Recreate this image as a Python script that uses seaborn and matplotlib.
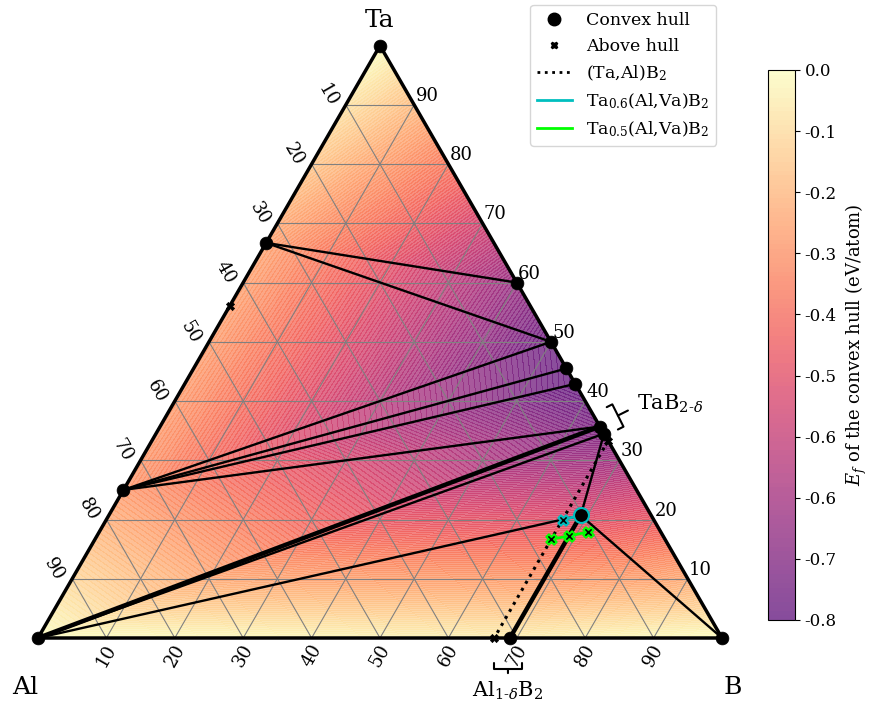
import numpy as np
import pandas as pd
import seaborn as sns
import matplotlib.pyplot as plt
import matplotlib.tri as mtri
from matplotlib.colors import ListedColormap
from matplotlib.lines import Line2D
from matplotlib.transforms import offset_copy

# convex hull phases: Ta fraction, B fraction, formation energy (eV/atom)
hull_names = ['Al', 'B', 'Ta', 'TaAl3', 'Ta2Al', 'Ta3B2', 'TaB', 'Ta5B6', 'Ta3B4',
              'TaB1.8', 'TaB1.9', 'Ta0.6Al0.3B2', 'Al0.9B2']
hull_ta = [0.0, 0.0, 1.0, 0.25, 0.667, 0.60, 0.50, 0.455, 0.429, 0.357, 0.345, 0.207, 0.0]
hull_b = [0.0, 1.0, 0.0, 0.0, 0.0, 0.40, 0.50, 0.545, 0.571, 0.643, 0.655, 0.690, 0.690]
hull_ef = [0.0, 0.0, 0.0, -0.26, -0.23, -0.68, -0.80, -0.815, -0.825, -0.76, -0.74, -0.48, -0.04]

# hull facets (triangles between hull phases)
facets = [('Ta', 'Ta2Al', 'Ta3B2'), ('Ta2Al', 'Ta3B2', 'TaB'), ('Ta2Al', 'TaB', 'TaAl3'),
          ('TaAl3', 'TaB', 'Ta5B6'), ('TaAl3', 'Ta5B6', 'Ta3B4'), ('TaAl3', 'Ta3B4', 'TaB1.8'),
          ('TaAl3', 'TaB1.8', 'Al'), ('Al', 'TaB1.8', 'TaB1.9'), ('Al', 'TaB1.9', 'Ta0.6Al0.3B2'),
          ('Al', 'Ta0.6Al0.3B2', 'Al0.9B2'), ('Ta0.6Al0.3B2', 'Al0.9B2', 'B'),
          ('TaB1.9', 'Ta0.6Al0.3B2', 'B')]

# tie lines drawn on the diagram
tie_lines = [('Ta2Al', 'Ta3B2'), ('Ta2Al', 'TaB'), ('TaAl3', 'TaB'), ('TaAl3', 'Ta5B6'),
             ('TaAl3', 'Ta3B4'), ('TaAl3', 'TaB1.8'), ('Al', 'TaB1.8'), ('Al', 'TaB1.9'),
             ('Al', 'Ta0.6Al0.3B2'), ('TaB1.9', 'Ta0.6Al0.3B2'), ('Ta0.6Al0.3B2', 'B')]
double_lines = [('Ta0.6Al0.3B2', 'Al0.9B2'), ('Al', 'TaB1.8')]

# phases above the hull
above_ta = [0.56, 0.0, 0.333]
above_b = [0.0, 0.667, 0.667]

# (Ta,Al)B2 solid solution line
ss_ta = [0.333, 0.0]
ss_b = [0.667, 0.667]
# Ta0.6(Al,Va)B2
ta06_ta = [0.200, 0.207]
ta06_b = [0.667, 0.690]
# Ta0.5(Al,Va)B2
ta05_ta = [0.167, 0.172, 0.179]
ta05_b = [0.667, 0.690, 0.714]

s3 = np.sqrt(3) / 2


def to_xy(ta, b):
    ta = np.asarray(ta, dtype=float)
    b = np.asarray(b, dtype=float)
    return b + ta / 2, ta * s3


plt.rcParams['font.family'] = 'DejaVu Serif'
plt.rcParams['mathtext.fontset'] = 'dejavuserif'

fig = plt.figure(figsize=(8.69, 7.04), dpi=100)
ax = fig.add_axes([0, 0, 740 / 869, 1])
ax.set_xlim(-38 / 684, 702 / 684)
ax.set_ylim(-66 / 684, 638 / 684)
ax.axis('off')

hull = pd.DataFrame({'name': hull_names, 'ta': hull_ta, 'b': hull_b, 'ef': hull_ef})
hull['x'], hull['y'] = to_xy(hull['ta'], hull['b'])
idx = {n: i for i, n in enumerate(hull_names)}

vmin = min(hull_ef)
cmap = ListedColormap(plt.cm.magma(np.linspace(0.3, 1.0, 256)))
tri = mtri.Triangulation(hull['x'], hull['y'], triangles=[[idx[a], idx[b], idx[c]] for a, b, c in facets])
cs = ax.tricontourf(tri, hull['ef'], levels=np.linspace(vmin, 0, 121), cmap=cmap, alpha=0.78, zorder=0)

# ternary grid
for t in np.arange(0.1, 1.0, 0.1):
    for (ta0, b0), (ta1, b1) in [((t, 0), (t, 1 - t)), ((0, t), (1 - t, t)), ((0, 1 - t), (1 - t, 0))]:
        gx, gy = to_xy([ta0, ta1], [b0, b1])
        ax.plot(gx, gy, color='grey', lw=0.8, zorder=1)

for a, b in tie_lines:
    ax.plot(hull.loc[[idx[a], idx[b]], 'x'], hull.loc[[idx[a], idx[b]], 'y'], color='k', lw=1.7, zorder=3)
for a, b in double_lines:
    ax.plot(hull.loc[[idx[a], idx[b]], 'x'], hull.loc[[idx[a], idx[b]], 'y'], color='k', lw=3.2, zorder=3)

ex, ey = to_xy([0, 0, 1, 0], [0, 1, 0, 0])
ax.plot(ex, ey, color='k', lw=2.5, zorder=4)

sx, sy = to_xy(ss_ta, ss_b)
sns.lineplot(x=sx, y=sy, sort=False, estimator=None, color='k', lw=2.2, linestyle=':', ax=ax, zorder=4)

ax6x, ax6y = to_xy(ta06_ta, ta06_b)
sns.lineplot(x=ax6x, y=ax6y, sort=False, estimator=None, color='c', lw=2, ax=ax, zorder=5)
ax5x, ax5y = to_xy(ta05_ta, ta05_b)
sns.lineplot(x=ax5x, y=ax5y, sort=False, estimator=None, color='lime', lw=2, ax=ax, zorder=5)

sns.scatterplot(data=hull, x='x', y='y', color='k', s=85, edgecolor='k', linewidth=0.5,
                ax=ax, zorder=6, legend=False)
tx = hull.loc[idx['Ta0.6Al0.3B2']]
ax.scatter([tx['x']], [tx['y']], s=115, color='k', edgecolor='c', linewidth=1.5, zorder=7)

bx, by = to_xy(above_ta, above_b)
sns.scatterplot(x=bx, y=by, color='k', marker='X', s=35, edgecolor='k', ax=ax, zorder=5, legend=False)
ax.scatter(ax6x[:1], ax6y[:1], marker='X', s=55, color='k', edgecolor='c', linewidth=1.5, zorder=7)
ax.scatter(ax5x, ax5y, marker='X', s=55, color='k', edgecolor='lime', linewidth=1.5, zorder=7)

# tick labels
for i in range(1, 10):
    t = i / 10
    lab = str(i * 10)
    rx, ry = to_xy(t, 1 - t)
    ax.annotate(lab, (rx, ry), xytext=(1, 0), textcoords='offset points', ha='left', va='bottom', fontsize=13)
    lx, ly = to_xy(1 - t, 0)
    ax.annotate(lab, (lx, ly), xytext=(-13, 7), textcoords='offset points', ha='center', va='center',
                rotation=-60, fontsize=13)
    bx_, by_ = to_xy(0, t)
    ax.annotate(lab, (bx_, by_), xytext=(0, -12.5), textcoords='offset points', ha='center', va='center',
                rotation=60, fontsize=13)

ax.annotate('Ta', to_xy(1, 0), xytext=(0, 18), textcoords='offset points', ha='center', va='center', fontsize=18)
ax.annotate('Al', to_xy(0, 0), xytext=(-9, -36), textcoords='offset points', ha='center', va='center', fontsize=18)
ax.annotate('B', to_xy(0, 1), xytext=(8, -36), textcoords='offset points', ha='center', va='center', fontsize=18)

# TaB2-delta bracket
p = hull.loc[idx['TaB1.8']]
ax.annotate('', xy=(p['x'], p['y']), xycoords=offset_copy(ax.transData, fig=fig, x=18, y=11, units='dots'),
            xytext=(p['x'], p['y']), textcoords=offset_copy(ax.transData, fig=fig, x=28, y=16, units='dots'),
            arrowprops=dict(arrowstyle='-[, widthB=0.6, lengthB=0.3', lw=1.5, color='k',
                            shrinkA=0, shrinkB=0, mutation_scale=15))
ax.annotate(r'TaB$_{2\text{-}\delta}$', (p['x'], p['y']), xytext=(27, 16), textcoords='offset points',
            ha='left', va='center', fontsize=15)

# Al1-delta B2 bracket
q = hull.loc[idx['Al0.9B2']]
ax.annotate(r'Al$_{1\text{-}\delta}$B$_2$', xy=(q['x'], q['y']),
            xycoords=offset_copy(ax.transData, fig=fig, x=-2, y=-31, units='dots'),
            xytext=(0, -16), textcoords='offset points', ha='center', va='center', fontsize=15,
            arrowprops=dict(arrowstyle='-[, widthB=0.65, lengthB=0.3', lw=1.5, color='k',
                            shrinkA=3, shrinkB=0))

handles = [
    Line2D([], [], color='k', marker='o', ls='none', markersize=9, label='Convex hull'),
    Line2D([], [], color='k', marker='X', ls='none', markersize=5, label='Above hull'),
    Line2D([], [], color='k', ls=':', lw=2, label='(Ta,Al)B$_2$'),
    Line2D([], [], color='c', lw=2, label='Ta$_{0.6}$(Al,Va)B$_2$'),
    Line2D([], [], color='lime', lw=2, label='Ta$_{0.5}$(Al,Va)B$_2$'),
]
ax.legend(handles=handles, loc='upper right', bbox_to_anchor=(716 / 869, 1 - 5 / 704),
          bbox_transform=fig.transFigure, borderaxespad=0, fontsize=12.5, frameon=True)

cax = fig.add_axes([768 / 869, 84 / 704, 27 / 869, 550 / 704])
cb = fig.colorbar(cs, cax=cax, ticks=np.linspace(vmin, 0, 10), format='%.1f')
cb.ax.tick_params(labelsize=12)
cb.set_label('$E_f$ of the convex hull (eV/atom)', fontsize=13, labelpad=5)

fig.savefig('out.png', dpi=100)
